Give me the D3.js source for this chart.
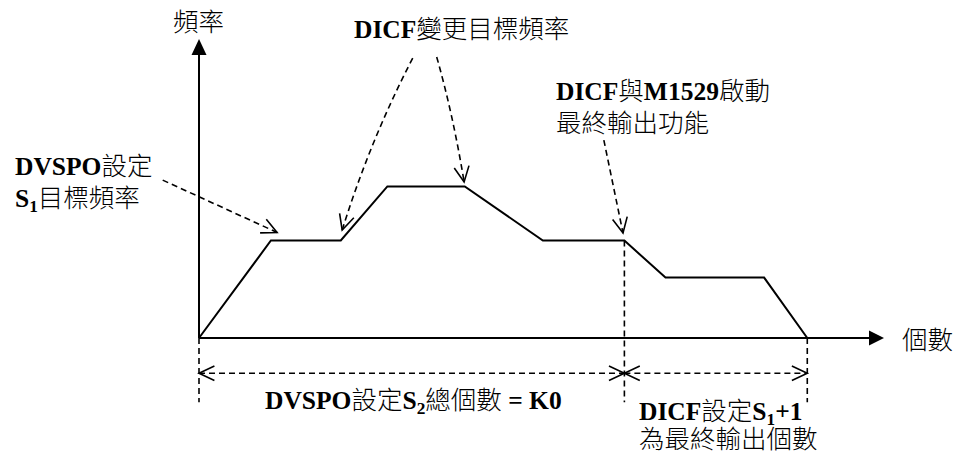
<!DOCTYPE html>
<html>
  <head>
    <meta charset="UTF-8">
    <script src="https://d3js.org/d3.v7.min.js"></script>
    <style>
      body {
        margin: 0;
        background: #fff;
      }
      text {
        white-space: pre;
      }
    </style>
  </head>
  <body>
    <script>
      // frequency profile (count units on x, frequency units on y)
      const counts = [0, 10.5, 20.7, 27.5, 38.8, 50.2, 62.1, 68.1, 82.5, 88.8];
      const freqs = [0, 32.6, 32.6, 50.7, 50.7, 32.6, 32.6, 20.2, 20.2, 0];

      // labels
      const axisLabels = ["頻率", "個數"];
      const noteTexts = [
        ["DVSPO設定", "S_{1}目標頻率"],
        ["DICF變更目標頻率"],
        ["DICF與M1529啟動", "最終輸出功能"],
        ["DVSPO設定S_{2}總個數 = K0"],
        ["DICF設定S_{1}+1", "為最終輸出個數"]
      ];

      // pointer lines in data units: [from, control, to]
      const pointerFrom = [[-5.3, 52.8], [31.2, 93.6], [34.7, 94.0], [59.1, 66.2]];
      const pointerCtrl = [null, [25.0, 66.2], [37.1, 74.6], null];
      const pointerTo = [[11.4, 35.3], [20.9, 36.1], [38.7, 52.2], [61.9, 35.1]];

      // dimension line: segment ends (index into profile points)
      const dimStops = [0, 6, 9];

      const W = 970, H = 455;
      const LATIN = "'Liberation Serif', 'Times New Roman', serif";
      const CJK = "'Noto Sans CJK TC', 'Noto Sans CJK SC', sans-serif";

      const svg = d3.select("body").append("svg")
        .attr("width", W)
        .attr("height", H);

      const x = d3.scaleLinear().domain([0, 100]).range([199, 884]);
      const y = d3.scaleLinear().domain([0, 100]).range([338, 39]);

      // axes
      svg.append("line")
        .attr("x1", x(0)).attr("y1", y(0))
        .attr("x2", x(0)).attr("y2", y(100) + 15)
        .attr("stroke", "#000").attr("stroke-width", 2);
      svg.append("path")
        .attr("d", `M${x(0)},${y(100)} L${x(0) - 7.5},${y(100) + 16} L${x(0) + 7.5},${y(100) + 16} Z`)
        .attr("fill", "#000");

      svg.append("line")
        .attr("x1", x(0)).attr("y1", y(0))
        .attr("x2", x(100) - 14).attr("y2", y(0))
        .attr("stroke", "#000").attr("stroke-width", 2);
      svg.append("path")
        .attr("d", `M${x(100)},${y(0)} L${x(100) - 15},${y(0) - 7.5} L${x(100) - 15},${y(0) + 7.5} Z`)
        .attr("fill", "#000");

      // profile
      const pts = counts.map((c, i) => [c, freqs[i]]);
      svg.append("path")
        .datum(pts)
        .attr("d", d3.line().x((d) => x(d[0])).y((d) => y(d[1])))
        .attr("fill", "none")
        .attr("stroke", "#000")
        .attr("stroke-width", 2)
        .attr("stroke-linejoin", "miter");

      function chevron(tx, ty, fx, fy, len, ang) {
        const a = Math.atan2(fy - ty, fx - tx);
        const r = ang * Math.PI / 180;
        const b1 = [tx + len * Math.cos(a - r), ty + len * Math.sin(a - r)];
        const b2 = [tx + len * Math.cos(a + r), ty + len * Math.sin(a + r)];
        svg.append("path")
          .attr("d", `M${b1[0]},${b1[1]} L${tx},${ty} L${b2[0]},${b2[1]}`)
          .attr("fill", "none")
          .attr("stroke", "#000")
          .attr("stroke-width", 1.6);
      }

      // pointer lines
      pointerFrom.forEach((f, i) => {
        const p0 = [x(f[0]), y(f[1])];
        const p2 = [x(pointerTo[i][0]), y(pointerTo[i][1])];
        const c = pointerCtrl[i] ? [x(pointerCtrl[i][0]), y(pointerCtrl[i][1])] : null;
        const d = c ? `M${p0} Q${c} ${p2}` : `M${p0} L${p2}`;
        svg.append("path")
          .attr("d", d)
          .attr("fill", "none")
          .attr("stroke", "#000")
          .attr("stroke-width", 1.6)
          .attr("stroke-dasharray", "6,4");
        const back = c || p0;
        chevron(p2[0], p2[1], back[0], back[1], 17, 26);
      });

      // dimension line
      const dimY = y(-11.8);
      const extBottom = y(-21.5);
      dimStops.forEach((k) => {
        const top = k === 6 ? y(freqs[k]) : y(0);
        svg.append("line")
          .attr("x1", x(counts[k])).attr("x2", x(counts[k]))
          .attr("y1", top).attr("y2", extBottom)
          .attr("stroke", "#000")
          .attr("stroke-width", 1.6)
          .attr("stroke-dasharray", "6,4");
      });
      for (let s = 0; s < dimStops.length - 1; s++) {
        const xa = x(counts[dimStops[s]]), xb = x(counts[dimStops[s + 1]]);
        svg.append("line")
          .attr("x1", xa).attr("x2", xb)
          .attr("y1", dimY).attr("y2", dimY)
          .attr("stroke", "#000")
          .attr("stroke-width", 1.6)
          .attr("stroke-dasharray", "6,4");
        chevron(xa, dimY, xb, dimY, 17, 25);
        chevron(xb, dimY, xa, dimY, 17, 25);
      }

      // mixed latin / CJK text with subscripts
      function richText(px, py, str, size) {
        const t = svg.append("text").attr("x", px).attr("y", py).attr("font-size", size);
        let shift = 0;
        str.split(/(_\{[^}]*\})/).forEach((piece) => {
          if (!piece) return;
          const sub = piece.match(/^_\{([^}]*)\}$/);
          if (sub) {
            t.append("tspan")
              .attr("font-family", LATIN)
              .attr("font-weight", "bold")
              .attr("font-size", size * 0.68)
              .attr("dy", 5)
              .text(sub[1]);
            shift = 5;
            return;
          }
          piece.split(/([\x20-\x7E]+)/).forEach((run) => {
            if (!run) return;
            const ascii = /^[\x20-\x7E]+$/.test(run);
            const ts = t.append("tspan")
              .attr("font-family", ascii ? LATIN : CJK)
              .attr("font-weight", ascii ? "bold" : 300)
              .text(run);
            if (shift) {
              ts.attr("dy", -shift);
              shift = 0;
            }
          });
        });
      }

      const FS = 25.5;
      richText(173, 31, axisLabels[0], FS);
      richText(902, 349, axisLabels[1], FS);

      const notePos = [[15, 175, 32], [354, 38, 0], [556, 100, 32], [265, 409, 0], [639, 420, 28]];
      noteTexts.forEach((lines, i) => {
        lines.forEach((ln, j) => {
          richText(notePos[i][0], notePos[i][1] + j * notePos[i][2], ln, FS);
        });
      });
    </script>
  </body>
</html>
